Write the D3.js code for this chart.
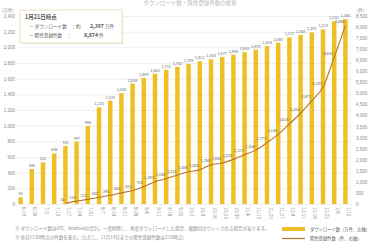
<!DOCTYPE html>
<html>
<head>
<meta charset="utf-8">
<script src="https://cdn.jsdelivr.net/npm/d3@7"></script>
<style>
  body { margin: 0; background: #fff; }
  svg { display: block; font-family: "Noto Sans CJK JP", "Noto Sans", sans-serif; }
</style>
</head>
<body>
<div id="chart"></div>
<script>
// weekly dates (1/1 skipped)
var dates = ['6/19','6/26','7/3','7/10','7/17','7/24','7/31','8/7','8/14','8/21',
             '8/28','9/4','9/11','9/18','9/25','10/2','10/9','10/16','10/23','10/30',
             '11/6','11/13','11/20','11/27','12/4','12/11','12/18','12/25','1/8','1/15'];
// downloads (万件, left axis)
var downloads = [85, 446, 531, 646, 741, 797, 996, 1233, 1320, 1416,
                 1536, 1609, 1663, 1712, 1752, 1789, 1822, 1848, 1877, 1906,
                 1938, 1970, 2016, 2060, 2127, 2158, 2191, 2228, 2332, 2360];
// positive registrations (件, right axis), starts at 7/17
var positives = [null, null, null, null, 35, 130, 211, 302, 393, 503,
                 612, 781, 1007, 1150, 1311, 1458, 1550, 1768, 1854, 2018,
                 2227, 2436, 2777, 3148, 3624, 4103, 4671, 5287, 6633, 8066];
var leftTicks = d3.range(0, 2401, 200);
var rightTicks = d3.range(0, 8501, 500);

var W = 370, H = 245;
var barColor = '#EFC026', lineColor = '#B8732E', grey = '#8a8a8a';
var fmt = d3.format(',');

var svg = d3.select('#chart').append('svg')
    .attr('width', W).attr('height', H);

var x = d3.scaleBand().domain(dates).range([15, 351])
    .paddingInner(0.6).paddingOuter(0.3);
var yL = d3.scaleLinear().domain([0, 2400]).range([204, 16]);
var yR = d3.scaleLinear().domain([0, 8500]).range([204, 16]);

// title, faint at the very top
svg.append('text').attr('x', 190).attr('y', 5)
    .attr('text-anchor', 'middle').attr('font-size', 5.5).attr('fill', '#bbb')
    .text('ダウンロード数・陽性登録件数の推移');

// grid
svg.append('g').selectAll('line').data(leftTicks).join('line')
    .attr('x1', 17).attr('x2', 352)
    .attr('y1', function(d) { return yL(d) + 0.5; })
    .attr('y2', function(d) { return yL(d) + 0.5; })
    .attr('stroke', '#e4e4e4').attr('stroke-width', 0.6);

// left axis
var axL = svg.append('g').attr('transform', 'translate(15,0)')
    .call(d3.axisLeft(yL).tickValues(leftTicks).tickSize(0).tickPadding(0).tickFormat(fmt));
axL.select('.domain').remove();
axL.selectAll('text').attr('font-size', 4.5).attr('fill', grey).attr('font-family', null);
svg.append('text').attr('x', 2).attr('y', 12).attr('font-size', 4.5).attr('fill', grey).text('(万件)');

// right axis
var axR = svg.append('g').attr('transform', 'translate(356,0)')
    .call(d3.axisRight(yR).tickValues(rightTicks).tickSize(0).tickPadding(0).tickFormat(fmt));
axR.select('.domain').remove();
axR.selectAll('text').attr('font-size', 4.5).attr('fill', grey).attr('font-family', null);
svg.append('text').attr('x', 357).attr('y', 12).attr('font-size', 4.5).attr('fill', grey).text('(件)');

// bars
svg.append('g').selectAll('rect').data(downloads).join('rect')
    .attr('x', function(d, i) { return x(dates[i]); })
    .attr('y', function(d) { return yL(d); })
    .attr('width', x.bandwidth())
    .attr('height', function(d) { return yL(0) - yL(d); })
    .attr('fill', barColor);

svg.append('g').selectAll('text').data(downloads).join('text')
    .attr('x', function(d, i) { return x(dates[i]) + x.bandwidth() / 2; })
    .attr('y', function(d) { return yL(d) - 2; })
    .attr('text-anchor', 'middle').attr('font-size', 3.8).attr('fill', '#666')
    .text(fmt);

// x labels, vertical
svg.append('g').selectAll('text').data(dates).join('text')
    .attr('transform', function(d) {
      return 'translate(' + (x(d) + x.bandwidth() / 2 + 1.5) + ',207) rotate(90)';
    })
    .attr('font-size', 4.5).attr('fill', grey)
    .text(function(d) { return d; });

// line
var pts = positives.map(function(v, i) { return {d: dates[i], v: v}; })
    .filter(function(p) { return p.v != null; });
var line = d3.line()
    .x(function(p) { return x(p.d) + x.bandwidth() / 2; })
    .y(function(p) { return yR(p.v); })
    .curve(d3.curveMonotoneX);
svg.append('path').datum(pts).attr('d', line)
    .attr('fill', 'none').attr('stroke', lineColor).attr('stroke-width', 1.1);

svg.append('g').selectAll('text').data(pts).join('text')
    .attr('x', function(p) { return x(p.d) + x.bandwidth() / 2 - 1; })
    .attr('y', function(p) { return yR(p.v) - 2.5; })
    .attr('text-anchor', 'end').attr('font-size', 3.8).attr('fill', '#555')
    .text(function(p) { return fmt(p.v); });

// info box
var box = svg.append('g').attr('transform', 'translate(20,10)');
box.append('rect').attr('x', 1).attr('y', 1).attr('width', 102).attr('height', 33)
    .attr('fill', '#eee');
box.append('rect').attr('width', 102).attr('height', 33)
    .attr('fill', '#fff').attr('stroke', '#e6d9a6').attr('stroke-width', 0.8);
box.append('text').attr('x', 5).attr('y', 8.5).attr('font-size', 5.5)
    .attr('font-weight', 'bold').attr('fill', '#555').text('1月21日時点');
box.append('text').attr('x', 9).attr('y', 18).attr('font-size', 4.6).attr('fill', '#555')
    .text('－ ダウンロード数　：約');
box.append('text').attr('x', 70).attr('y', 18).attr('font-size', 5.2)
    .attr('font-weight', 'bold').attr('fill', '#555').text('2,397');
box.append('text').attr('x', 85).attr('y', 18).attr('font-size', 4.6).attr('fill', '#555').text('万件');
box.append('text').attr('x', 9).attr('y', 27).attr('font-size', 4.6).attr('fill', '#555')
    .text('－ 陽性登録件数　：');
box.append('text').attr('x', 78).attr('y', 27).attr('font-size', 5.2).attr('text-anchor', 'end')
    .attr('font-weight', 'bold').attr('fill', '#555').text('8,874');
box.append('text').attr('x', 79).attr('y', 27).attr('font-size', 4.6).attr('fill', '#555').text('件');

// footnotes
svg.append('text').attr('x', 15).attr('y', 230).attr('font-size', 4.5).attr('fill', grey)
    .text('※ ダウンロード数はiOS、Androidの合計。一度削除し、再度ダウンロードした場合、複数回カウントされる場合があります。');
svg.append('text').attr('x', 15).attr('y', 239).attr('font-size', 4.5).attr('fill', grey)
    .text('※ 各日17:00時点の件数を表示。(ただし、11月13日までの陽性登録件数は2:59時点)');

// legend
var lg = svg.append('g').attr('transform', 'translate(282,0)');
lg.append('rect').attr('x', 0).attr('y', 227).attr('width', 23).attr('height', 4).attr('fill', barColor);
lg.append('text').attr('x', 28).attr('y', 231).attr('font-size', 4.3).attr('fill', '#555')
    .text('ダウンロード数（万件、左軸）');
lg.append('line').attr('x1', 0).attr('x2', 23).attr('y1', 238.5).attr('y2', 238.5)
    .attr('stroke', lineColor).attr('stroke-width', 1.2);
lg.append('text').attr('x', 28).attr('y', 240).attr('font-size', 4.3).attr('fill', '#555')
    .text('陽性登録件数（件、右軸）');
</script>
</body>
</html>
